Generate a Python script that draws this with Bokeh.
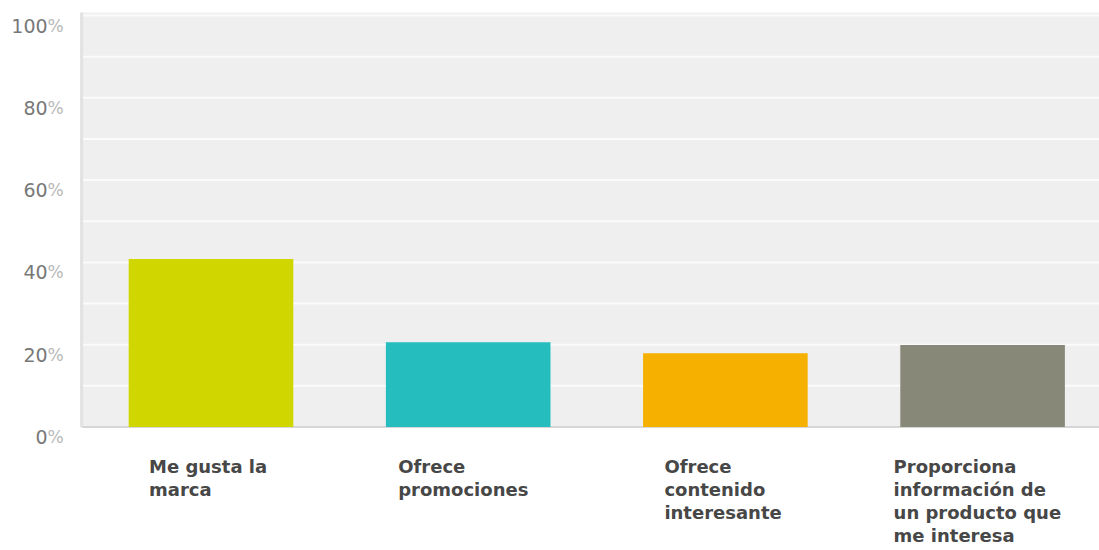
from bokeh.plotting import figure
from bokeh.models import Range1d, ColumnDataSource
from bokeh.core.properties import value
from bokeh.embed import file_html
from bokeh.resources import INLINE

categories = ["Me gusta la\nmarca", "Ofrece\npromociones", "Ofrece\ncontenido\ninteresante",
              "Proporciona\ninformación de\nun producto que\nme interesa"]
values = [40.8, 20.6, 17.9, 19.9]
colors = ["#d0d700", "#26bdbf", "#f6b100", "#878877"]
y_ticks = [0, 20, 40, 60, 80, 100]
y_tick_labels = ["0", "20", "40", "60", "80", "100"]
grid_levels = [10, 20, 30, 40, 50, 60, 70, 80, 90, 100]

# layout constants (screen geometry)
X_LEFT, X_RIGHT = -0.503, 3.4546
Y_TOP = 100.73

xs = list(range(len(categories)))
src = ColumnDataSource(dict(x=xs, top=values, color=colors))

p = figure(width=1099, height=550, output_backend="svg", toolbar_location=None,
           x_range=Range1d(-0.8184, 3.4546), y_range=Range1d(-30.01, 103.65),
           x_axis_location=None, y_axis_location=None,
           min_border_left=0, min_border_right=0, min_border_top=0, min_border_bottom=0)
p.outline_line_color = None
p.background_fill_color = "white"
p.border_fill_color = "white"
p.grid.visible = False

# plot panel
p.quad(left=X_LEFT, right=X_RIGHT, bottom=0, top=Y_TOP, fill_color="#efefef", line_color=None)
p.segment(x0=X_LEFT, x1=X_RIGHT, y0=grid_levels, y1=grid_levels, line_color="#fbfbfb", line_width=2)
p.segment(x0=X_LEFT, x1=X_RIGHT, y0=0, y1=0, line_color="#d6d6d6", line_width=2)
p.segment(x0=X_LEFT, x1=X_LEFT, y0=0, y1=Y_TOP, line_color="#e2e2e2", line_width=3)

p.vbar(x="x", top="top", width=0.64, bottom=0, color="color", source=src, line_color=None)

# y tick labels
n = len(y_ticks)
p.text(x=[X_LEFT] * n, y=y_ticks, text=y_tick_labels, x_offset=-34, y_offset=10,
       text_align="right", text_baseline="middle", text_font=value("DejaVu Sans"),
       text_font_size="19px", text_color="#787878")
p.text(x=[X_LEFT] * n, y=y_ticks, text=["%"] * n, x_offset=-34, y_offset=10,
       text_align="left", text_baseline="middle", text_font=value("DejaVu Sans"),
       text_font_size="17px", text_color="#b8b8b8")

# category labels (left-aligned block, centred under bar)
shifts = [-62, -70, -61, -89]
lab_src = ColumnDataSource(dict(x=xs, y=[0] * len(xs), text=categories, xo=shifts))
p.text(x="x", y="y", text="text", x_offset="xo", y_offset=29, source=lab_src,
       text_align="left", text_baseline="top", text_font=value("DejaVu Sans"),
       text_font_style="bold", text_font_size="18px", text_color="#474747",
       text_line_height=1.09)

open("out.html", "w").write(file_html(p, INLINE))
